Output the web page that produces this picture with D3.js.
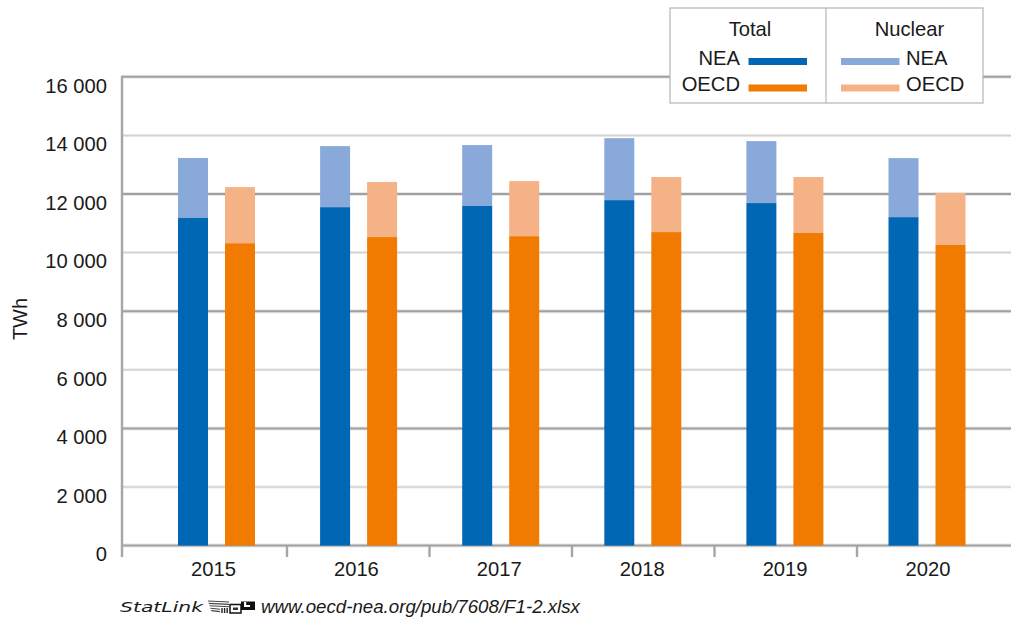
<!DOCTYPE html>
<html><head><meta charset="utf-8">
<script src="https://cdn.jsdelivr.net/npm/d3@7"></script>
<style>
html,body{margin:0;padding:0;background:#fff}
svg{display:block}
text{font-family:"Liberation Sans",Arial,sans-serif;fill:#1a1a1a}
</style></head><body>
<div id="chart"></div>
<script>
const years = ["2015","2016","2017","2018","2019","2020"];
const neaTotal = [11180,11550,11590,11790,11690,11210];
const neaNuclear = [2050,2085,2080,2115,2115,2015];
const oecdTotal = [10320,10530,10560,10700,10670,10260];
const oecdNuclear = [1915,1880,1880,1880,1910,1775];
const yTicks = [0,2000,4000,6000,8000,10000,12000,14000,16000];
const yTickLabels = ["0","2 000","4 000","6 000","8 000","10 000","12 000","14 000","16 000"];
const groups = ["NEA","OECD"];
const colors = {NEA:"#0067b5",OECD:"#f07b00",NEAn:"#8aa9db",OECDn:"#f5b286"};
const rows = groups.flatMap(g=>years.map((year,i)=>({
  year, group:g,
  total: g==="NEA"?neaTotal[i]:oecdTotal[i],
  nuclear: g==="NEA"?neaNuclear[i]:oecdNuclear[i]
})));

const W=1011,H=621,fs=20.2;
const svg=d3.select("#chart").append("svg").attr("width",W).attr("height",H);
const y=d3.scaleLinear().domain([0,16000]).range([545.6,76.8]);
const x=d3.scaleBand().domain(years).range([145.4,998]);
const xi=d3.scaleBand().domain(groups).range([32.6,109.6]).paddingInner(0.362);
const xLabel=d3.scalePoint().domain(years).range([213.5,928]);
const xTick=d3.scalePoint().domain(years.slice(0,-1)).range([287,857]);

// grid
const isDark=v=>v%4000===0;
const grid=svg.append("g");
grid.selectAll("line.halo").data(yTicks).join("line").attr("class","halo")
  .attr("x1",122).attr("x2",W).attr("y1",y).attr("y2",y)
  .attr("stroke",d=>isDark(d)?"#e8e8e8":"#ececec").attr("stroke-width",d=>isDark(d)?4:3);
grid.selectAll("line.main").data(yTicks).join("line").attr("class","main")
  .attr("x1",122).attr("x2",W).attr("y1",y).attr("y2",y)
  .attr("stroke",d=>isDark(d)?"#a0a0a0":"#d4d4d4").attr("stroke-width",d=>isDark(d)?2:1.5);

// axis lines + ticks
const ax=svg.append("g").attr("stroke","#a6a6a6").attr("stroke-width",2.4);
ax.append("line").attr("x1",122).attr("x2",122).attr("y1",y(16000)-1).attr("y2",557);
ax.selectAll("line.t").data(xTick.domain()).join("line").attr("class","t")
  .attr("x1",d=>xTick(d)).attr("x2",d=>xTick(d))
  .attr("y1",y(0)).attr("y2",557);

// bars
const bars=svg.append("g");
bars.selectAll("rect.n").data(rows).join("rect").attr("class","n")
  .attr("x",d=>x(d.year)+xi(d.group)).attr("width",xi.bandwidth())
  .attr("y",d=>y(d.total+d.nuclear)).attr("height",d=>y(d.total)-y(d.total+d.nuclear))
  .attr("fill",d=>colors[d.group+"n"]);
bars.selectAll("rect.t").data(rows).join("rect").attr("class","t")
  .attr("x",d=>x(d.year)+xi(d.group)).attr("width",xi.bandwidth())
  .attr("y",d=>y(d.total)).attr("height",d=>y(0)-y(d.total))
  .attr("fill",d=>colors[d.group]);

// labels
svg.append("g").selectAll("text").data(yTicks).join("text")
  .attr("x",107).attr("y",d=>y(d)+15.7).attr("text-anchor","end").attr("font-size",fs)
  .text((d,i)=>yTickLabels[i]);
svg.append("g").selectAll("text").data(years).join("text")
  .attr("x",d=>xLabel(d)).attr("y",576).attr("text-anchor","middle").attr("font-size",fs)
  .text(d=>d);
svg.append("text").attr("transform","translate(27,319) rotate(-90)").attr("text-anchor","middle")
  .attr("font-size",20).text("TWh");

// legend
const lg=svg.append("g");
lg.append("rect").attr("x",670).attr("y",8).attr("width",313).attr("height",95)
  .attr("fill","#fff").attr("stroke","#b5b5b5").attr("stroke-width",1.2);
lg.append("line").attr("x1",826).attr("x2",826).attr("y1",8).attr("y2",103)
  .attr("stroke","#b5b5b5").attr("stroke-width",1.2);
lg.append("text").attr("x",750).attr("y",36).attr("text-anchor","middle").attr("font-size",fs).text("Total");
lg.append("text").attr("x",909.5).attr("y",36).attr("text-anchor","middle").attr("font-size",fs).text("Nuclear");
groups.forEach((g,i)=>{
  const ty=[65,91][i], sy=[58,84.5][i];
  lg.append("text").attr("x",740).attr("y",ty).attr("text-anchor","end").attr("font-size",fs).text(g);
  lg.append("text").attr("x",906).attr("y",ty).attr("font-size",fs).text(g);
  lg.append("rect").attr("x",748.5).attr("y",sy).attr("width",58.5).attr("height",7).attr("fill",colors[g]);
  lg.append("rect").attr("x",841).attr("y",sy).attr("width",58.5).attr("height",7).attr("fill",colors[g+"n"]);
});

// footer
svg.append("text").attr("x",120).attr("y",612).attr("font-size",14).attr("font-style","italic")
  .style("font-family","'DejaVu Sans',sans-serif")
  .attr("textLength",83).attr("lengthAdjust","spacingAndGlyphs").text("StatLink");
const logo=svg.append("g").attr("transform","translate(207,600)");
d3.range(5).forEach(i=>{
  logo.append("line").attr("x1",1+i*0.8).attr("x2",i<3?22:13).attr("y1",1+i*2.4).attr("y2",2+i*2.4)
    .attr("stroke","#444").attr("stroke-width",1.1);
});
d3.range(3).forEach(i=>{
  logo.append("line").attr("x1",15+i*2.6).attr("x2",15+i*2.6).attr("y1",8).attr("y2",13)
    .attr("stroke","#222").attr("stroke-width",1.4);
});
logo.append("rect").attr("x",23).attr("y",4.5).attr("width",11).attr("height",8.5).attr("fill","none").attr("stroke","#111").attr("stroke-width",1.5);
logo.append("rect").attr("x",26).attr("y",7.5).attr("width",5).attr("height",2.5).attr("fill","#333");
logo.append("rect").attr("x",34).attr("y",1.5).attr("width",14).attr("height",8.5).attr("fill","#111");
logo.append("rect").attr("x",37).attr("y",2).attr("width",2.2).attr("height",5).attr("fill","#fff");
logo.append("rect").attr("x",37).attr("y",5).attr("width",6).attr("height",2).attr("fill","#fff");
svg.append("text").attr("x",261).attr("y",613).attr("font-size",18.7).attr("font-style","italic")
  .text("www.oecd-nea.org/pub/7608/F1-2.xlsx");
</script>
</body></html>
